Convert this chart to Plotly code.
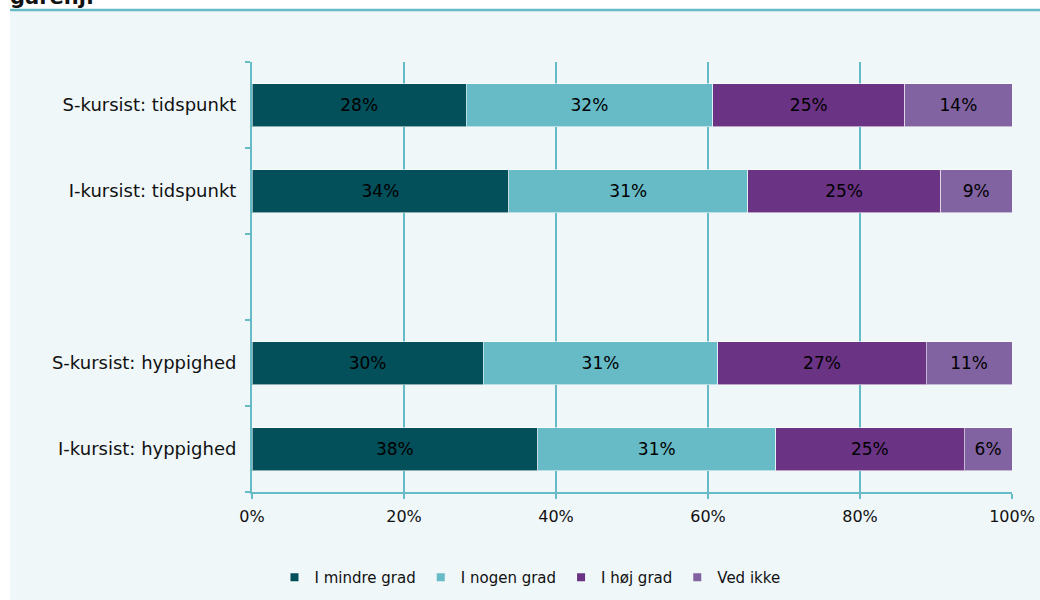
import plotly.graph_objects as go

categories = ["I-kursist: hyppighed", "S-kursist: hyppighed", " ", "I-kursist: tidspunkt", "S-kursist: tidspunkt"]
bar_categories = ["I-kursist: hyppighed", "S-kursist: hyppighed", "I-kursist: tidspunkt", "S-kursist: tidspunkt"]
series_names = ["I mindre grad", "I nogen grad", "I høj grad", "Ved ikke"]
mindre = [37.6, 30.4, 33.8, 28.2]
nogen = [31.3, 30.9, 31.4, 32.4]
hoej = [24.8, 27.4, 25.4, 25.3]
vedikke = [6.3, 11.3, 9.4, 14.1]
colors = ["#034F5A", "#67BBC6", "#6A3384", "#8063A0"]
x_ticks = [0, 20, 40, 60, 80, 100]
x_ticktext = ["0%", "20%", "40%", "60%", "80%", "100%"]
title_text = "garenj."

W, H = 1040, 600
L, R, T, B = 252, 28, 62, 108
pw, ph = W - L - R, H - T - B

def px_x(p):
    return (p - L) / pw

def px_y(p):
    return (H - B - p) / ph

fig = go.Figure()
for name, vals, col in zip(series_names, [mindre, nogen, hoej, vedikke], colors):
    fig.add_trace(go.Bar(
        y=bar_categories, x=vals, orientation="h", name=name,
        marker=dict(color=col, line=dict(color="rgba(255,255,255,0.55)", width=1)),
        texttemplate="%{x:.0f}%", textposition="inside", insidetextanchor="middle",
        textangle=0, insidetextfont=dict(color="black", size=17, family="DejaVu Sans"),
        showlegend=False, hoverinfo="skip",
    ))
    fig.add_trace(go.Scatter(
        x=[None], y=[None], mode="markers", name=name,
        marker=dict(symbol="square", size=8, color=col), showlegend=True,
    ))

fig.update_layout(
    width=W, height=H,
    margin=dict(l=L, r=R, t=T, b=B, autoexpand=False),
    barmode="stack", bargap=0.5,
    paper_bgcolor="white", plot_bgcolor="rgba(0,0,0,0)",
    font=dict(family="DejaVu Sans", size=16, color="#111"),
    legend=dict(orientation="h", x=px_x(530), xanchor="center", y=px_y(561), yanchor="top",
                font=dict(size=15, color="#111"), itemwidth=30, tracegroupgap=0,
                traceorder="normal", bgcolor="rgba(0,0,0,0)"),
    shapes=[
        dict(type="rect", xref="paper", yref="paper", x0=px_x(10), x1=px_x(1040),
             y0=px_y(600), y1=px_y(11), fillcolor="#EFF7F9", line=dict(width=0), layer="below"),
        dict(type="line", xref="paper", yref="paper", x0=px_x(10), x1=px_x(1040),
             y0=px_y(10), y1=px_y(10), line=dict(color="#67BBC6", width=2.5)),
    ],
    annotations=[
        dict(text="<b>" + title_text + "</b>", xref="paper", yref="paper",
             x=px_x(8), y=px_y(11), xanchor="left", yanchor="bottom", showarrow=False,
             font=dict(size=21, color="#111", family="DejaVu Sans")),
    ],
)
fig.update_xaxes(
    range=[0, 100], tickvals=x_ticks, ticktext=x_ticktext, automargin=False,
    showgrid=True, gridcolor="#67BBC6", gridwidth=1.5,
    showline=True, linecolor="#67BBC6", linewidth=2,
    ticks="outside", ticklen=5, tickcolor="#67BBC6", tickwidth=2,
    zeroline=False, tickfont=dict(size=16), ticklabelstandoff=4,
)
fig.update_yaxes(
    type="category", categoryorder="array", categoryarray=categories,
    range=[-0.5, 4.5], tickson="boundaries", automargin=False,
    showline=True, linecolor="#67BBC6", linewidth=2,
    ticks="outside", ticklen=5, tickcolor="#67BBC6", tickwidth=2,
    showgrid=False, tickfont=dict(size=18), ticklabelstandoff=10,
)

fig.write_html("out.html", config={"displayModeBar": False},
               post_script="document.body.style.margin='0';document.body.style.overflow='hidden';")
